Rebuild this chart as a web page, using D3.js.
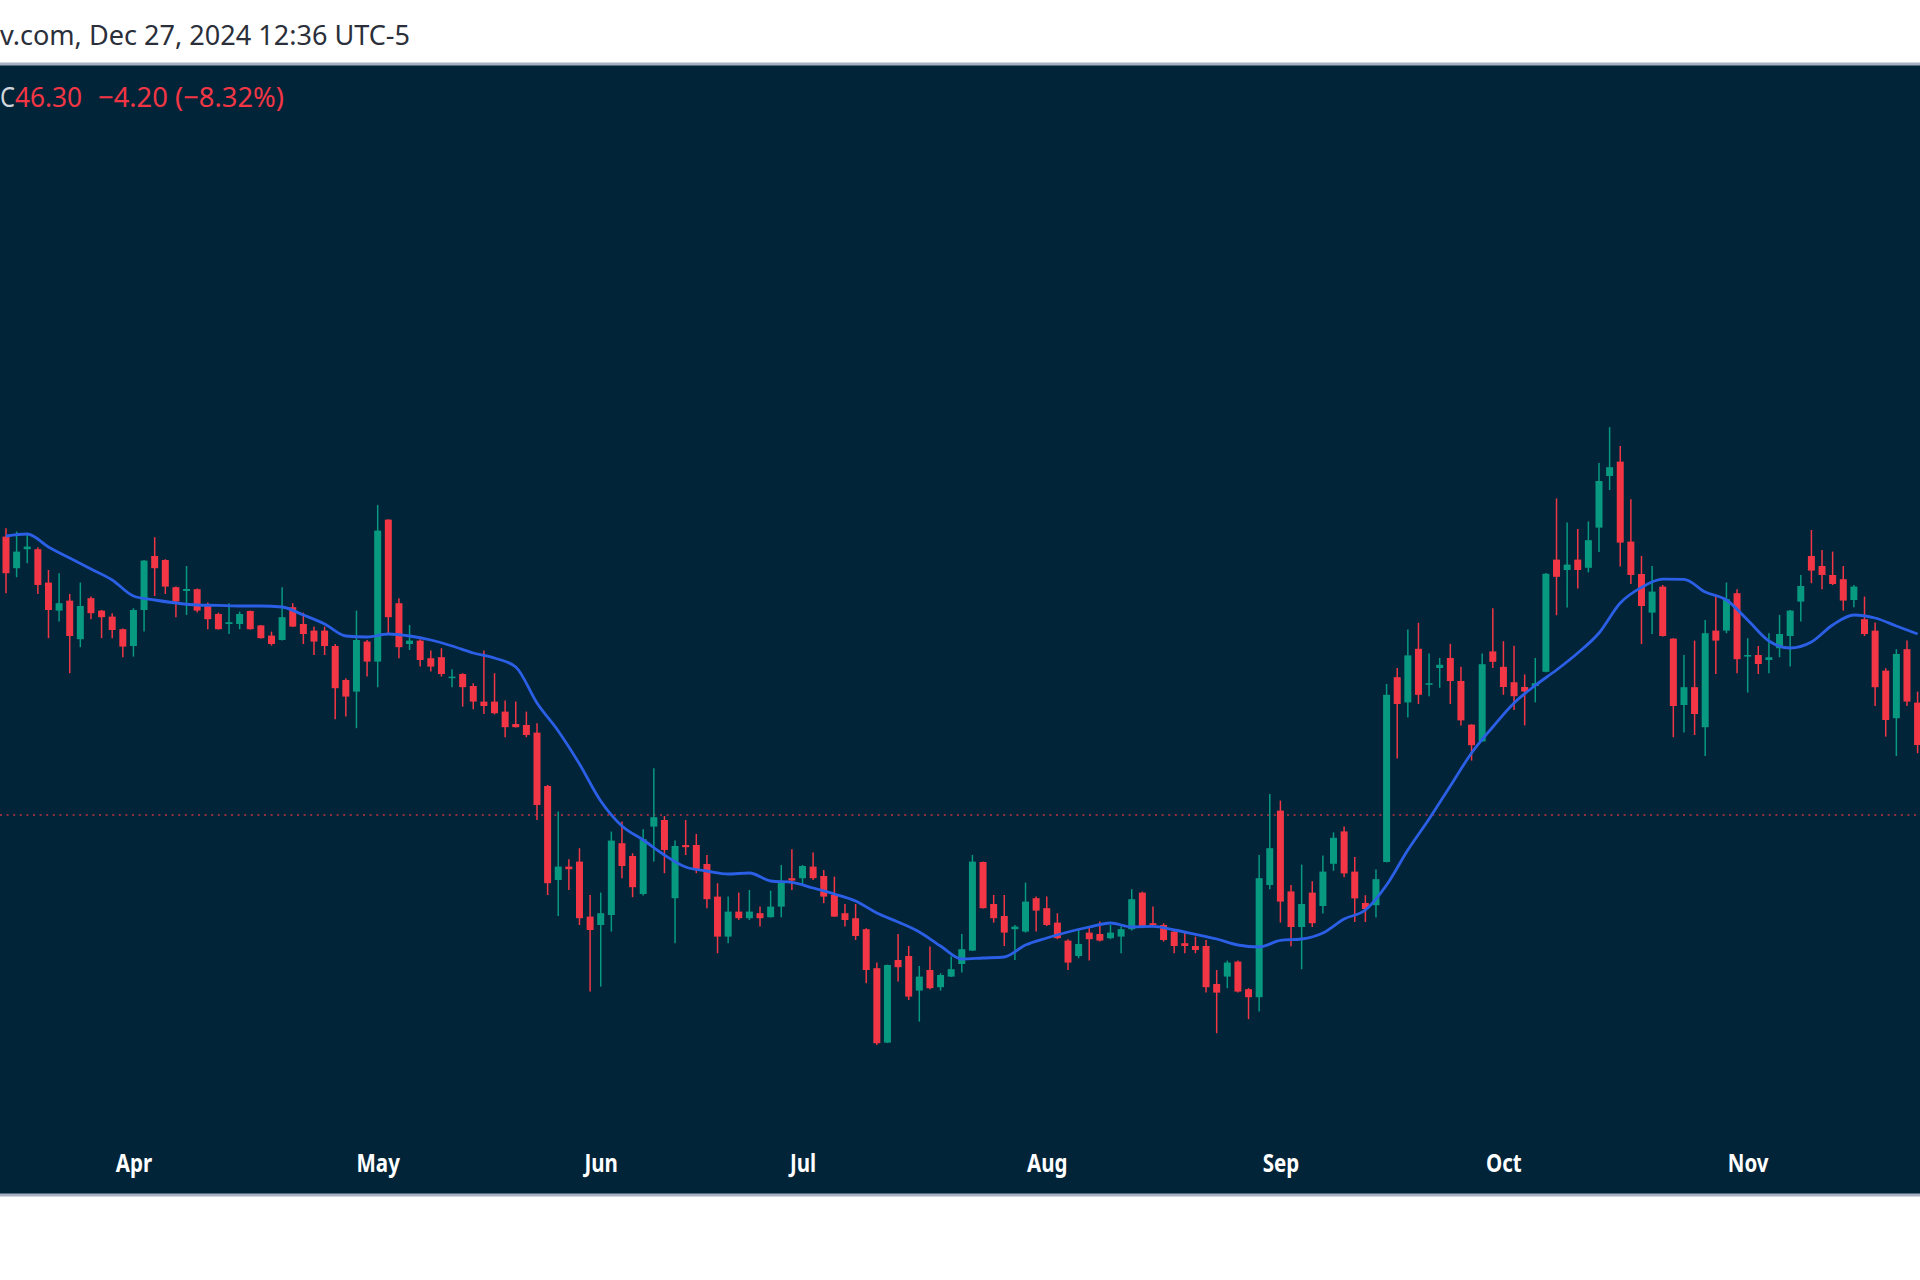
<!DOCTYPE html>
<html>
<head>
<meta charset="utf-8">
<script src="https://cdnjs.cloudflare.com/ajax/libs/d3/7.8.5/d3.min.js"></script>
<style>
  body { margin: 0; background: #ffffff; }
  svg { display: block; }
</style>
</head>
<body>
<div id="chart"></div>
<script>
// Daily candles, left to right, prices
var opens = [
  60.22, 58.64, 59.59, 59.59, 57.92, 56.52, 57.02, 55.09, 57.14, 56.52,
  56.22, 55.59, 54.75, 56.55, 59.25, 59.05, 57.69, 57.50, 57.59, 56.85,
  56.35, 55.85, 55.85, 56.50, 55.78, 55.27, 55.05, 56.69, 55.85, 55.52,
  55.52, 54.75, 53.05, 52.47, 54.97, 53.97, 61.07, 56.89, 54.85, 55.02,
  54.14, 54.19, 53.14, 53.35, 52.75, 51.97, 51.97, 51.47, 50.85, 50.80,
  50.42, 47.75, 43.05, 43.72, 43.97, 41.22, 40.80, 41.30, 44.89, 44.25,
  42.35, 45.72, 46.05, 42.14, 44.80, 44.80, 43.85, 42.22, 40.22, 41.47,
  41.14, 41.39, 41.19, 41.72, 43.14, 43.14, 43.72, 43.25, 42.30, 41.39,
  41.14, 40.59, 38.64, 34.92, 39.05, 39.25, 37.52, 38.55, 37.69, 38.22,
  38.85, 39.52, 43.95, 41.85, 41.25, 40.59, 40.47, 42.14, 41.64, 40.92,
  40.02, 39.25, 40.42, 40.35, 40.14, 40.22, 40.59, 42.42, 40.89, 40.80,
  40.47, 39.89, 39.75, 39.75, 37.85, 38.22, 38.97, 37.59, 37.19, 42.80,
  46.52, 42.48, 40.70, 42.42, 41.75, 43.86, 45.48, 43.47, 41.90, 41.79,
  43.95, 53.19, 51.93, 54.61, 52.81, 53.65, 54.15, 53.00, 50.82, 49.98,
  54.48, 53.71, 52.94, 52.70, 52.75, 53.46, 59.07, 58.55, 59.07, 58.66,
  60.67, 63.25, 63.97, 59.97, 58.35, 56.42, 57.72, 55.12, 51.80, 52.69,
  50.69, 55.52, 55.52, 57.39, 54.22, 54.30, 54.05, 54.64, 55.25, 56.97,
  59.25, 58.75, 58.30, 58.09, 57.05, 56.09, 55.52, 53.52, 51.14, 54.59,
  51.92
];
var highs = [
  60.64, 60.47, 60.39, 59.69, 58.55, 58.39, 57.35, 57.92, 57.22, 56.55,
  56.39, 55.62, 56.64, 59.05, 60.19, 59.09, 57.72, 58.75, 57.62, 56.92,
  56.42, 56.89, 56.47, 56.52, 55.80, 55.47, 57.69, 56.89, 56.42, 55.72,
  55.72, 54.85, 53.14, 56.52, 55.05, 61.80, 61.09, 57.14, 55.80, 55.09,
  54.52, 54.64, 53.59, 53.39, 52.89, 54.52, 53.39, 52.02, 51.97, 51.47,
  50.89, 47.80, 46.47, 44.09, 44.64, 42.30, 42.42, 45.47, 45.97, 44.39,
  45.59, 48.64, 46.25, 45.02, 46.05, 45.35, 44.30, 42.89, 42.22, 42.42,
  42.55, 41.72, 42.52, 43.80, 44.59, 43.80, 44.42, 43.55, 43.22, 41.85,
  41.85, 40.64, 38.92, 38.82, 40.35, 39.75, 38.75, 39.72, 38.39, 39.22,
  40.35, 44.30, 43.97, 42.30, 42.30, 40.80, 42.92, 42.22, 42.22, 41.39,
  40.09, 40.64, 40.69, 40.97, 40.80, 40.72, 42.59, 42.47, 41.72, 40.89,
  40.52, 40.42, 40.22, 40.05, 38.55, 39.02, 39.02, 37.64, 44.30, 47.35,
  47.02, 42.80, 43.82, 42.99, 44.28, 45.43, 45.73, 44.20, 42.29, 43.57,
  52.85, 53.65, 55.57, 55.91, 54.38, 54.15, 54.86, 53.71, 50.84, 54.38,
  56.64, 54.99, 54.76, 53.33, 54.15, 58.40, 62.13, 60.92, 60.60, 60.98,
  63.90, 65.69, 64.75, 62.09, 59.25, 58.75, 57.80, 55.14, 54.30, 55.02,
  56.05, 57.22, 57.92, 57.59, 55.14, 54.75, 55.39, 56.30, 56.55, 58.30,
  60.55, 59.55, 59.47, 58.75, 57.80, 57.22, 55.92, 53.64, 54.59, 55.02,
  52.47
];
var lows = [
  57.39, 58.19, 58.89, 57.35, 55.14, 55.97, 53.39, 54.69, 56.09, 55.14,
  55.14, 54.19, 54.22, 55.47, 57.25, 57.35, 56.19, 56.30, 56.42, 55.59,
  55.57, 55.35, 55.59, 55.57, 55.12, 54.77, 55.03, 55.70, 54.85, 54.30,
  54.30, 51.09, 51.22, 50.64, 53.22, 52.69, 55.30, 54.14, 54.55, 53.72,
  53.47, 53.22, 52.69, 51.72, 51.59, 51.35, 51.33, 50.19, 50.67, 50.19,
  46.05, 42.30, 41.25, 42.55, 40.80, 37.47, 37.72, 40.47, 43.14, 42.19,
  42.28, 43.97, 43.39, 39.89, 44.30, 43.39, 41.64, 39.39, 39.89, 41.05,
  41.05, 40.72, 41.17, 41.19, 42.55, 42.80, 43.05, 41.89, 41.20, 40.72,
  40.05, 37.89, 34.80, 34.90, 37.97, 37.05, 35.97, 37.59, 37.52, 38.20,
  38.42, 39.50, 41.62, 40.92, 39.75, 39.05, 40.42, 40.47, 40.75, 40.09,
  38.55, 39.14, 39.02, 39.97, 40.09, 39.39, 40.52, 40.64, 40.75, 39.97,
  39.39, 39.39, 39.39, 37.42, 35.39, 37.64, 37.42, 36.09, 36.47, 42.59,
  40.92, 39.74, 38.59, 40.70, 41.37, 43.51, 43.19, 40.95, 40.95, 41.18,
  43.93, 49.12, 51.17, 51.85, 52.24, 52.66, 51.85, 50.78, 49.02, 49.96,
  53.65, 52.31, 51.55, 50.78, 51.93, 53.44, 56.29, 56.68, 57.63, 58.43,
  59.45, 62.55, 58.72, 57.85, 54.85, 55.35, 55.22, 50.19, 50.42, 50.30,
  49.25, 53.35, 55.39, 53.39, 52.42, 53.35, 53.39, 54.19, 53.72, 55.97,
  57.89, 57.59, 57.80, 56.52, 56.69, 55.25, 51.75, 50.22, 49.25, 51.75,
  49.39
];
var closes = [
  58.39, 59.47, 59.72, 57.80, 56.55, 56.89, 55.25, 56.75, 56.39, 56.19,
  55.55, 54.72, 56.55, 59.02, 58.64, 57.72, 56.97, 57.60, 56.52, 56.09,
  55.59, 55.94, 56.35, 55.59, 55.14, 54.85, 56.19, 55.72, 55.35, 54.97,
  54.75, 52.64, 52.22, 55.05, 53.97, 60.52, 56.19, 54.69, 55.02, 54.05,
  53.72, 53.35, 53.22, 52.69, 51.97, 51.75, 51.39, 50.69, 50.69, 50.30,
  46.80, 42.89, 43.72, 43.59, 41.14, 40.55, 41.39, 45.02, 43.75, 42.69,
  45.09, 46.19, 44.55, 44.75, 44.69, 43.59, 42.09, 40.22, 41.47, 41.14,
  41.47, 41.14, 41.72, 42.97, 43.02, 43.75, 43.14, 42.22, 41.22, 41.05,
  40.25, 38.55, 34.89, 38.80, 38.69, 37.22, 38.22, 37.64, 38.30, 38.59,
  39.59, 43.97, 41.64, 41.14, 40.42, 40.72, 41.97, 41.52, 40.80, 40.14,
  38.92, 39.85, 40.09, 40.02, 40.42, 40.59, 42.09, 40.72, 40.80, 40.05,
  39.75, 39.75, 39.55, 37.69, 37.42, 38.92, 37.47, 37.19, 43.14, 44.64,
  41.97, 40.70, 41.85, 40.89, 43.47, 45.16, 43.38, 42.13, 41.60, 43.09,
  52.31, 51.85, 54.28, 52.31, 52.89, 53.81, 53.00, 51.03, 49.79, 53.84,
  53.96, 52.70, 52.24, 52.47, 52.89, 58.36, 58.21, 58.82, 58.55, 60.04,
  63.00, 63.69, 59.92, 58.30, 56.75, 57.47, 55.25, 51.75, 52.69, 51.35,
  55.39, 55.02, 57.09, 54.09, 54.30, 53.85, 54.19, 55.35, 56.52, 57.75,
  58.52, 58.30, 57.85, 57.02, 57.72, 55.35, 52.69, 51.05, 54.35, 51.97,
  49.80
];

// Moving average, read at every second bar
var maBars = [
  1, 3, 5, 7, 9, 11, 13, 15, 17, 19, 21, 23, 25, 27, 29, 31, 33, 35, 37, 39,
  41, 43, 45, 47, 49, 51, 53, 55, 57, 59, 61, 63, 65, 67, 69, 71, 73, 75, 77, 79,
  81, 83, 85, 87, 89, 91, 93, 95, 97, 99, 101, 103, 105, 107, 109, 111, 113, 115, 117, 119,
  121, 123, 125, 127, 129, 131, 133, 135, 137, 139, 141, 143, 145, 147, 149, 151, 153, 155, 157, 159,
  161, 163, 165, 167, 169, 171, 173, 175, 177, 179, 181
];
var maValues = [
  60.25, 60.35, 59.70, 59.15, 58.60, 58.05, 57.25, 57.05, 56.90, 56.80,
  56.78, 56.75, 56.75, 56.70, 56.30, 55.85, 55.25, 55.20, 55.35, 55.25,
  55.05, 54.75, 54.40, 54.15, 53.70, 51.90, 50.50, 48.85, 47.00, 45.75,
  45.05, 44.30, 43.70, 43.50, 43.35, 43.40, 43.00, 42.93, 42.65, 42.35,
  42.00, 41.40, 40.95, 40.45, 39.75, 39.10, 39.15, 39.20, 39.80, 40.15,
  40.45, 40.70, 40.90, 40.70, 40.73, 40.55, 40.33, 40.10, 39.80, 39.70,
  40.03, 40.10, 40.40, 41.10, 41.55, 42.80, 44.55, 46.10, 47.75, 49.40,
  50.70, 51.90, 52.78, 53.55, 54.40, 55.40, 56.90, 57.68, 58.09, 58.08,
  57.45, 57.05, 56.05, 55.00, 54.65, 54.95, 55.80, 56.30, 56.15, 55.75,
  55.35
];

// Month labels and the bar they sit under
var monthNames = ["Apr", "May", "Jun", "Jul", "Aug", "Sep", "Oct", "Nov"];
var monthBars = [13, 36, 57, 76, 99, 121, 142, 165];

var lastPrice = 46.3;
var headerText = "v.com, Dec 27, 2024 12:36 UTC-5";
var closeLabel = "C";
var closeValue = "46.30";
var changeText = "\u22124.20 (\u22128.32%)";

var width = 1920;
var height = 1280;
var panelTop = 64;
var panelBottom = 1195;
var upColor = "#089981";
var downColor = "#f23645";

var svg = d3
  .select("#chart")
  .append("svg")
  .attr("width", width)
  .attr("height", height);

svg.append("rect").attr("width", width).attr("height", height).attr("fill", "#ffffff");

// dark chart panel
svg
  .append("rect")
  .attr("x", 0)
  .attr("y", panelTop)
  .attr("width", width)
  .attr("height", panelBottom - panelTop)
  .attr("fill", "#012438");

svg.append("line")
  .attr("x1", 0).attr("x2", width)
  .attr("y1", panelTop).attr("y2", panelTop)
  .attr("stroke", "#a7b1c2").attr("stroke-width", 3);
svg.append("line")
  .attr("x1", 0).attr("x2", width)
  .attr("y1", panelBottom).attr("y2", panelBottom)
  .attr("stroke", "#a7b1c2").attr("stroke-width", 3);

svg.append("clipPath").attr("id", "plot-clip")
  .append("rect")
  .attr("x", 0).attr("y", panelTop + 2)
  .attr("width", width).attr("height", panelBottom - panelTop - 4);

// scales: bar index across, price up
var x = d3.scaleLinear().domain([1, opens.length]).range([6, 1917.6]);
var y = d3.scaleLinear().domain([30, 70]).range([1141, 341]);

var candles = opens.map(function (o, i) {
  return { bar: i + 1, o: o, h: highs[i], l: lows[i], c: closes[i] };
});

var plot = svg.append("g").attr("clip-path", "url(#plot-clip)");

// last price dotted line
plot
  .append("line")
  .attr("x1", 0)
  .attr("x2", width)
  .attr("y1", y(lastPrice))
  .attr("y2", y(lastPrice))
  .attr("stroke", downColor)
  .attr("stroke-opacity", 0.8)
  .attr("stroke-width", 1.6)
  .attr("stroke-dasharray", "2,4.6");

// wicks
plot
  .selectAll(".wick")
  .data(candles)
  .enter()
  .append("line")
  .attr("class", "wick")
  .attr("x1", function (d) { return x(d.bar); })
  .attr("x2", function (d) { return x(d.bar); })
  .attr("y1", function (d) { return y(d.h); })
  .attr("y2", function (d) { return y(d.l); })
  .attr("stroke", function (d) { return d.c >= d.o ? upColor : downColor; })
  .attr("stroke-width", 1.5);

// bodies
var bodyWidth = 7;
plot
  .selectAll(".body")
  .data(candles)
  .enter()
  .append("rect")
  .attr("class", "body")
  .attr("x", function (d) { return x(d.bar) - bodyWidth / 2; })
  .attr("y", function (d) { return y(Math.max(d.o, d.c)); })
  .attr("width", bodyWidth)
  .attr("height", function (d) {
    return Math.max(1.5, Math.abs(y(d.o) - y(d.c)));
  })
  .attr("fill", function (d) { return d.c >= d.o ? upColor : downColor; });

// moving average
var maLine = d3
  .line()
  .x(function (d, i) { return x(maBars[i]); })
  .y(function (d) { return y(d); })
  .curve(d3.curveMonotoneX);

plot
  .append("path")
  .datum(maValues)
  .attr("fill", "none")
  .attr("stroke", "#2b5fe6")
  .attr("stroke-width", 2.8)
  .attr("d", maLine);

// month axis
var axis = svg
  .append("g")
  .attr("transform", "translate(0," + 1154 + ")")
  .call(
    d3.axisBottom(x)
      .tickValues(monthBars)
      .tickFormat(function (d, i) { return monthNames[i]; })
      .tickSize(0)
      .tickPadding(0)
  );
axis.select(".domain").remove();
axis
  .selectAll("text")
  .attr("fill", "#ffffff")
  .attr("font-family", "'Noto Sans', sans-serif")
  .attr("font-weight", "bold")
  .attr("font-size", 25)
  .attr("transform", "scale(0.82,1)");

// header texts
svg
  .append("text")
  .attr("x", 0)
  .attr("y", 45)
  .attr("font-family", "'Noto Sans', sans-serif")
  .attr("font-size", 27)
  .attr("fill", "#2b2f3a")
  .attr("textLength", 410)
  .attr("lengthAdjust", "spacingAndGlyphs")
  .text(headerText);

svg
  .append("text")
  .attr("x", 0)
  .attr("y", 107)
  .attr("font-family", "'Noto Sans', sans-serif")
  .attr("font-size", 27)
  .attr("fill", "#d1d4dc")
  .attr("textLength", 15)
  .attr("lengthAdjust", "spacingAndGlyphs")
  .text(closeLabel);

svg
  .append("text")
  .attr("x", 15)
  .attr("y", 107)
  .attr("font-family", "'Noto Sans', sans-serif")
  .attr("font-size", 27)
  .attr("fill", downColor)
  .attr("textLength", 67)
  .attr("lengthAdjust", "spacingAndGlyphs")
  .text(closeValue);

svg
  .append("text")
  .attr("x", 98)
  .attr("y", 107)
  .attr("font-family", "'Noto Sans', sans-serif")
  .attr("font-size", 27)
  .attr("fill", downColor)
  .attr("textLength", 186)
  .attr("lengthAdjust", "spacingAndGlyphs")
  .text(changeText);
</script>
</body>
</html>
